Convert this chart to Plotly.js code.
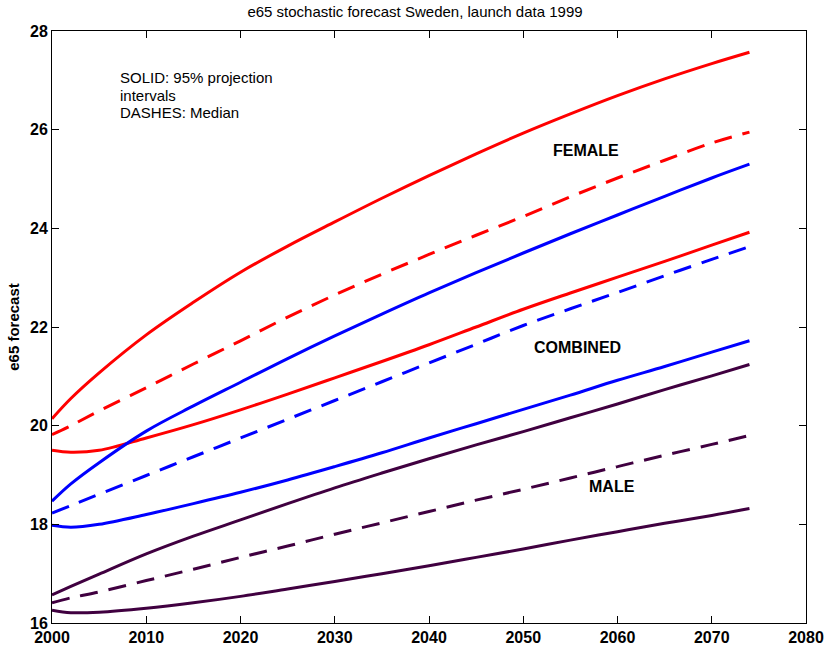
<!DOCTYPE html>
<html>
<head>
<meta charset="utf-8">
<script src="https://cdn.plot.ly/plotly-3.0.1.min.js"></script>
<style>html,body{margin:0;padding:0;background:#fff;}#chart{width:830px;height:649px;}</style>
</head>
<body>
<div id="chart"></div>
<script>
const years = [2000, 2002, 2005, 2010, 2015, 2020, 2025, 2030, 2035, 2040, 2045, 2050, 2055, 2060, 2065, 2070, 2074];

const femaleUpper  = [20.14, 20.55, 21.07, 21.84, 22.50, 23.11, 23.64, 24.13, 24.61, 25.07, 25.51, 25.93, 26.32, 26.69, 27.03, 27.34, 27.57];
const femaleMedian = [19.82, 20.00, 20.30, 20.77, 21.25, 21.72, 22.20, 22.65, 23.07, 23.47, 23.86, 24.24, 24.64, 25.02, 25.38, 25.73, 25.95];
const femaleLower  = [19.50, 19.46, 19.50, 19.75, 20.02, 20.32, 20.64, 20.97, 21.30, 21.64, 22.00, 22.36, 22.69, 23.01, 23.33, 23.66, 23.92];

const combinedUpper  = [18.47, 18.82, 19.25, 19.89, 20.40, 20.88, 21.36, 21.82, 22.26, 22.69, 23.10, 23.50, 23.89, 24.27, 24.65, 25.02, 25.30];
const combinedMedian = [18.23, 18.38, 18.61, 18.99, 19.37, 19.75, 20.13, 20.51, 20.89, 21.27, 21.65, 22.03, 22.37, 22.70, 23.04, 23.37, 23.63];
const combinedLower  = [17.98, 17.94, 18.00, 18.20, 18.42, 18.65, 18.90, 19.17, 19.45, 19.75, 20.04, 20.33, 20.62, 20.92, 21.20, 21.49, 21.72];

const maleUpper  = [16.57, 16.74, 16.99, 17.40, 17.76, 18.09, 18.42, 18.74, 19.04, 19.33, 19.61, 19.88, 20.16, 20.44, 20.73, 21.01, 21.24];
const maleMedian = [16.41, 16.51, 16.63, 16.86, 17.09, 17.33, 17.56, 17.80, 18.03, 18.26, 18.49, 18.71, 18.94, 19.17, 19.40, 19.62, 19.80];
const maleLower  = [16.26, 16.21, 16.22, 16.30, 16.41, 16.54, 16.69, 16.84, 17.00, 17.16, 17.33, 17.50, 17.68, 17.85, 18.02, 18.18, 18.32];

const xTicks = [2000, 2010, 2020, 2030, 2040, 2050, 2060, 2070, 2080];
const yTicks = [16, 18, 20, 22, 24, 26, 28];

const RED = '#ff0000', BLUE = '#0000ff', PURPLE = '#400040';
const DASH = '18px,11px';

function tr(y, color, dashed) {
  return {
    x: years, y: y, type: 'scatter', mode: 'lines',
    line: {color: color, width: 3, dash: dashed ? DASH : 'solid', shape: 'spline', smoothing: 1},
    hoverinfo: 'skip', showlegend: false
  };
}

const data = [
  tr(femaleUpper, RED, false), tr(femaleMedian, RED, true), tr(femaleLower, RED, false),
  tr(combinedUpper, BLUE, false), tr(combinedMedian, BLUE, true), tr(combinedLower, BLUE, false),
  tr(maleUpper, PURPLE, false), tr(maleMedian, PURPLE, true), tr(maleLower, PURPLE, false)
];

const FONT = 'Liberation Sans, Arial, Helvetica, sans-serif';

function note(text, x, y, size, bold, anchor) {
  return {
    x: x, y: y, xref: 'x', yref: 'y', text: bold ? '<b>' + text + '</b>' : text,
    showarrow: false, xanchor: anchor || 'center', yanchor: 'middle',
    font: {family: FONT, size: size, color: '#000'}
  };
}

const layout = {
  width: 830, height: 649,
  margin: {l: 52, r: 24, t: 31, b: 26},
  paper_bgcolor: '#fff', plot_bgcolor: '#fff',
  title: {text: 'e65 stochastic forecast Sweden, launch data 1999', font: {family: FONT, size: 15, color: '#000'}, x: 0.5, xanchor: 'center', y: 0.982, yanchor: 'middle'},
  xaxis: {
    range: [2000, 2080], tickvals: xTicks, ticktext: xTicks.map(String),
    ticks: 'inside', ticklen: 7, tickcolor: '#000', tickwidth: 1,
    showline: true, linecolor: '#000', linewidth: 1, mirror: 'ticks',
    showgrid: false, zeroline: false,
    tickfont: {family: FONT, size: 16, color: '#000', weight: 'bold'}
  },
  yaxis: {
    range: [16, 28], tickvals: yTicks, ticktext: yTicks.map(String),
    ticks: 'inside', ticklen: 7, tickcolor: '#000', tickwidth: 1,
    showline: true, linecolor: '#000', linewidth: 1, mirror: 'ticks',
    showgrid: false, zeroline: false,
    tickfont: {family: FONT, size: 16, color: '#000', weight: 'bold'},
    title: {text: '<b>e65 forecast</b>', font: {family: FONT, size: 15, color: '#000'}, standoff: 6}
  },
  annotations: [
    note('SOLID: 95% projection', 2007.0, 27.05, 15, false, 'left'),
    note('intervals', 2007.0, 26.69, 15, false, 'left'),
    note('DASHES: Median', 2007.0, 26.34, 15, false, 'left'),
    note('FEMALE', 2056.7, 25.58, 16, true),
    note('COMBINED', 2055.8, 21.59, 16, true),
    note('MALE', 2059.4, 18.77, 16, true)
  ]
};

Plotly.newPlot('chart', data, layout, {displayModeBar: false, staticPlot: true});
</script>
</body>
</html>
